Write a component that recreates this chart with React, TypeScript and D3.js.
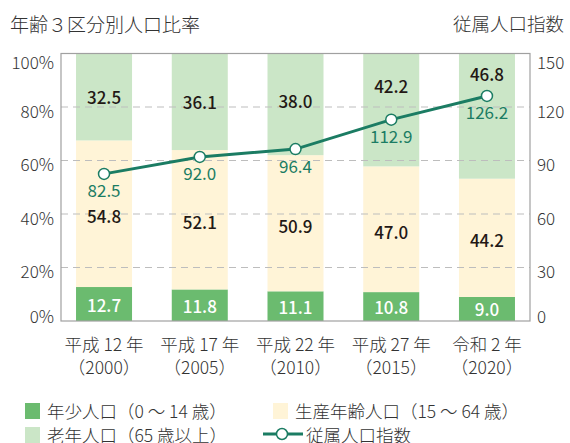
import React from "react";
import * as d3 from "d3";

const categoriesL1 = ["平成 12 年", "平成 17 年", "平成 22 年", "平成 27 年", "令和 2 年"];
const categoriesL2 = ["（2000）", "（2005）", "（2010）", "（2015）", "（2020）"];
const young = [12.7, 11.8, 11.1, 10.8, 9.0];
const working = [54.8, 52.1, 50.9, 47.0, 44.2];
const elderly = [32.5, 36.1, 38.0, 42.2, 46.8];
const dependency = [82.5, 92.0, 96.4, 112.9, 126.2];
const leftTicks = [0, 20, 40, 60, 80, 100];
const rightTicks = [0, 30, 60, 90, 120, 150];
const legendLabels = ["年少人口（0 ～ 14 歳）", "生産年齢人口（15 ～ 64 歳）", "老年人口（65 歳以上）", "従属人口指数"];

const W = 570, H = 443;
const L = 61, R = 530, T = 53.5, B = 321;
const C_YOUNG = "#6bbb6f";
const C_WORK = "#fff4d7";
const C_OLD = "#cbe6c7";
const C_LINE = "#1b7c63";
const C_TEXT = "#333333";
const FONT = "'Noto Sans CJK JP', 'Noto Sans', sans-serif";

export default function App() {
  const x = d3.scaleBand<number>().domain(d3.range(5)).range([L, R]).paddingInner(0.415).paddingOuter(0.157);
  const y = d3.scaleLinear().domain([0, 100]).range([B, T]);
  const y2 = d3.scaleLinear().domain([0, 150]).range([B, T]);
  const bw = x.bandwidth();
  const cx = (i: number) => (x(i) as number) + bw / 2;
  const line = d3.line<number>().x((_, i) => cx(i)).y((d) => y2(d));
  const clampY = (v: number) => Math.max(61, Math.min(315, v));

  return (
    <svg width={W} height={H} style={{ position: "absolute", left: 0, top: 0, display: "block" }} fontFamily={FONT}>
      <rect width={W} height={H} fill="#fff" />
      <text x={10} y={23} fontSize={19} fontWeight={300} fill={C_TEXT} dominantBaseline="central">年齢３区分別人口比率</text>
      <text x={564} y={23} fontSize={18.5} fontWeight={300} fill={C_TEXT} textAnchor="end" dominantBaseline="central">従属人口指数</text>

      {/* bars */}
      {young.map((v, i) => {
        const w = working[i];
        return (
          <g key={i}>
            <rect x={x(i)} width={bw} y={y(v)} height={y(0) - y(v)} fill={C_YOUNG} />
            <rect x={x(i)} width={bw} y={y(v + w)} height={y(v) - y(v + w)} fill={C_WORK} />
            <rect x={x(i)} width={bw} y={y(100)} height={y(v + w) - y(100)} fill={C_OLD} />
          </g>
        );
      })}

      {/* gridlines */}
      {leftTicks.filter((t) => t > 0 && t < 100).map((t) => (
        <line key={t} x1={L} x2={R} y1={y(t)} y2={y(t)} stroke="#bdbdbd" strokeWidth={1.2} strokeDasharray="7,5" />
      ))}

      {/* frame */}
      <rect x={L} y={T} width={R - L} height={B - T} fill="none" stroke="#a0a0a0" strokeWidth={1.2} />

      {/* ticks */}
      {leftTicks.map((t) => (
        <text key={t} x={54} y={clampY(y(t) + 3)} fontSize={17} fontWeight={300} fill={C_TEXT} textAnchor="end" dominantBaseline="central">{t}%</text>
      ))}
      {rightTicks.map((t) => (
        <text key={t} x={537} y={clampY(y2(t) + 3)} fontSize={17} fontWeight={300} fill={C_TEXT} dominantBaseline="central">{t}</text>
      ))}

      {/* x labels */}
      {categoriesL1.map((c, i) => (
        <g key={i} fontSize={17.5} fontWeight={300} fill={C_TEXT} textAnchor="middle" dominantBaseline="central">
          <text x={cx(i)} y={343}>{c}</text>
          <text x={cx(i)} y={366}>{categoriesL2[i]}</text>
        </g>
      ))}

      {/* segment values */}
      {young.map((v, i) => {
        const w = working[i];
        const py = y2(dependency[i]);
        const oldTop = y(100);
        const oldBot = y(v + w);
        const oldY = py > oldTop && py < oldBot ? (oldTop + py) / 2 - 1 : (oldTop + oldBot) / 2;
        return (
          <g key={i} fontSize={17} fontWeight={500} textAnchor="middle" dominantBaseline="central">
            <text x={cx(i)} y={(y(0) + y(v)) / 2} fill="#ffffff">{v.toFixed(1)}</text>
            <text x={cx(i)} y={(y(v) + y(v + w)) / 2 + 2} fill="#231815">{w.toFixed(1)}</text>
            <text x={cx(i)} y={oldY} fill="#231815">{elderly[i].toFixed(1)}</text>
          </g>
        );
      })}

      {/* line */}
      <path d={line(dependency) || ""} fill="none" stroke={C_LINE} strokeWidth={3} />
      {dependency.map((d, i) => (
        <g key={i}>
          <circle cx={cx(i)} cy={y2(d)} r={5.5} fill="#fff" stroke={C_LINE} strokeWidth={1.5} />
          <text x={cx(i)} y={y2(d) + 16} fontSize={17} fill={C_LINE} textAnchor="middle" dominantBaseline="central">{d.toFixed(1)}</text>
        </g>
      ))}

      {/* legend */}
      <g fontSize={17.5} fontWeight={300} fill={C_TEXT} dominantBaseline="central">
        <rect x={25} y={403} width={15} height={16} fill={C_YOUNG} />
        <text x={47} y={410}>{legendLabels[0]}</text>
        <rect x={273} y={403} width={15} height={16} fill={C_WORK} />
        <text x={295} y={410}>{legendLabels[1]}</text>
        <rect x={25} y={427} width={15} height={16} fill={C_OLD} />
        <text x={47} y={434}>{legendLabels[2]}</text>
        <line x1={263} x2={303} y1={434} y2={434} stroke={C_LINE} strokeWidth={3} />
        <circle cx={282} cy={434} r={5.5} fill="#fff" stroke={C_LINE} strokeWidth={1.5} />
        <text x={306} y={434}>{legendLabels[3]}</text>
      </g>
    </svg>
  );
}
